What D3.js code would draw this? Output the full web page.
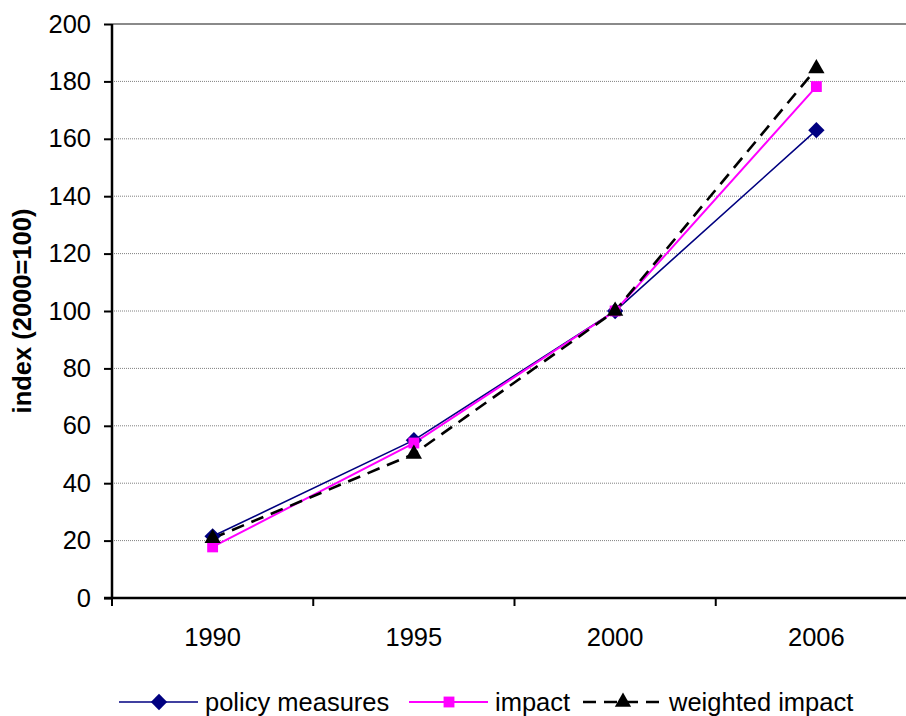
<!DOCTYPE html>
<html>
<head>
<meta charset="utf-8">
<script src="https://cdn.jsdelivr.net/npm/d3@7"></script>
<style>
  body { margin: 0; background: #fff; }
  svg { display: block; font-family: "Liberation Sans", Arial, sans-serif; }
</style>
</head>
<body>
<div id="chart"></div>
<script>
var years = ["1990", "1995", "2000", "2006"];
var policyMeasures = [21.5, 55, 100, 163];
var impact = [17.8, 54, 100, 178.2];
var weightedImpact = [20.8, 50.2, 100, 184.5];
var yTicks = [0, 20, 40, 60, 80, 100, 120, 140, 160, 180, 200];

var svgWidth = 906;
var svgHeight = 716;
var fontSize = 25.5;

var svg = d3.select("#chart")
    .append("svg")
    .attr("width", svgWidth)
    .attr("height", svgHeight);

var xScale = d3.scaleBand().domain(years).range([112, 917]).padding(0);
var yScale = d3.scaleLinear().domain([0, 200]).range([598, 24]);

// gridlines
svg.append("g")
    .selectAll("line")
    .data(yTicks.filter(d => d > 0 && d < 200))
    .enter().append("line")
    .attr("x1", 112).attr("x2", svgWidth)
    .attr("y1", d => yScale(d)).attr("y2", d => yScale(d))
    .attr("stroke", "#808080")
    .attr("stroke-width", 1)
    .attr("stroke-dasharray", "1,1");

// top border of plot area
svg.append("line")
    .attr("x1", 112).attr("x2", svgWidth)
    .attr("y1", yScale(200)).attr("y2", yScale(200))
    .attr("stroke", "#8a8a8a")
    .attr("stroke-width", 2);

// y axis
var yAxis = d3.axisLeft(yScale).tickValues(yTicks).tickSize(8).tickPadding(13);
var yg = svg.append("g")
    .attr("transform", "translate(112,0)")
    .call(yAxis);
yg.select(".domain").attr("stroke", "#000").attr("stroke-width", 2.5).attr("d", "M0," + yScale(200) + "V" + yScale(0));
yg.selectAll(".tick line").attr("stroke", "#000").attr("stroke-width", 2);
yg.selectAll(".tick text").attr("font-size", fontSize).attr("fill", "#000")
    .attr("font-family", "Liberation Sans, Arial, sans-serif");

// x axis
var xg = svg.append("g")
    .attr("transform", "translate(0," + yScale(0) + ")");
xg.append("line")
    .attr("x1", 104).attr("x2", svgWidth)
    .attr("stroke", "#000").attr("stroke-width", 2.5);
var xTickPos = [112].concat(years.map(d => xScale(d) + xScale.bandwidth()));
xg.selectAll(".xtick")
    .data(xTickPos)
    .enter().append("line")
    .attr("x1", d => d).attr("x2", d => d)
    .attr("y1", 0).attr("y2", 8)
    .attr("stroke", "#000").attr("stroke-width", 2);
xg.selectAll(".xlabel")
    .data(years)
    .enter().append("text")
    .attr("x", d => xScale(d) + xScale.bandwidth() / 2)
    .attr("y", 48)
    .attr("text-anchor", "middle")
    .attr("font-size", fontSize)
    .text(d => d);

// y title
svg.append("text")
    .attr("transform", "translate(31," + ((yScale(0) + yScale(200)) / 2) + ") rotate(-90)")
    .attr("text-anchor", "middle")
    .attr("font-size", fontSize)
    .attr("font-weight", "bold")
    .text("index (2000=100)");

var cx = d => xScale(d) + xScale.bandwidth() / 2;

var series = [
    { name: "policy measures", values: policyMeasures, color: "#000080", width: 1.6, dash: null, marker: "diamond" },
    { name: "impact", values: impact, color: "#ff00ff", width: 2, dash: null, marker: "square" },
    { name: "weighted impact", values: weightedImpact, color: "#000", width: 2.6, dash: "13,8", marker: "triangle" }
];

var symbols = {
    diamond: d3.symbol().type(d3.symbolDiamond2).size(170),
    square: d3.symbol().type(d3.symbolSquare2).size(150),
    triangle: d3.symbol().type(d3.symbolTriangle2).size(190)
};

var line = d3.line().x(d => cx(d.year)).y(d => yScale(d.value));

series.forEach(s => {
    var pts = years.map((y, i) => ({ year: y, value: s.values[i] }));
    svg.append("path")
        .datum(pts)
        .attr("d", line)
        .attr("fill", "none")
        .attr("stroke", s.color)
        .attr("stroke-width", s.width)
        .attr("stroke-dasharray", s.dash);
});

series.forEach(s => {
    var pts = years.map((y, i) => ({ year: y, value: s.values[i] }));
    svg.append("g").selectAll("path")
        .data(pts)
        .enter().append("path")
        .attr("d", symbols[s.marker])
        .attr("transform", d => "translate(" + cx(d.year) + "," + yScale(d.value) + ")")
        .attr("fill", s.color);
});

// legend
var legendX = [119, 409, 583];
var legend = svg.append("g").attr("transform", "translate(0,702)");
series.forEach((s, i) => {
    var x0 = legendX[i];
    legend.append("line")
        .attr("x1", x0).attr("x2", x0 + 79)
        .attr("stroke", s.color)
        .attr("stroke-width", s.width)
        .attr("stroke-dasharray", s.dash);
    legend.append("path")
        .attr("d", symbols[s.marker])
        .attr("transform", "translate(" + (x0 + 40) + ",0)")
        .attr("fill", s.color);
    legend.append("text")
        .attr("x", x0 + 86)
        .attr("y", 9)
        .attr("font-size", fontSize)
        .text(s.name);
});
</script>
</body>
</html>
